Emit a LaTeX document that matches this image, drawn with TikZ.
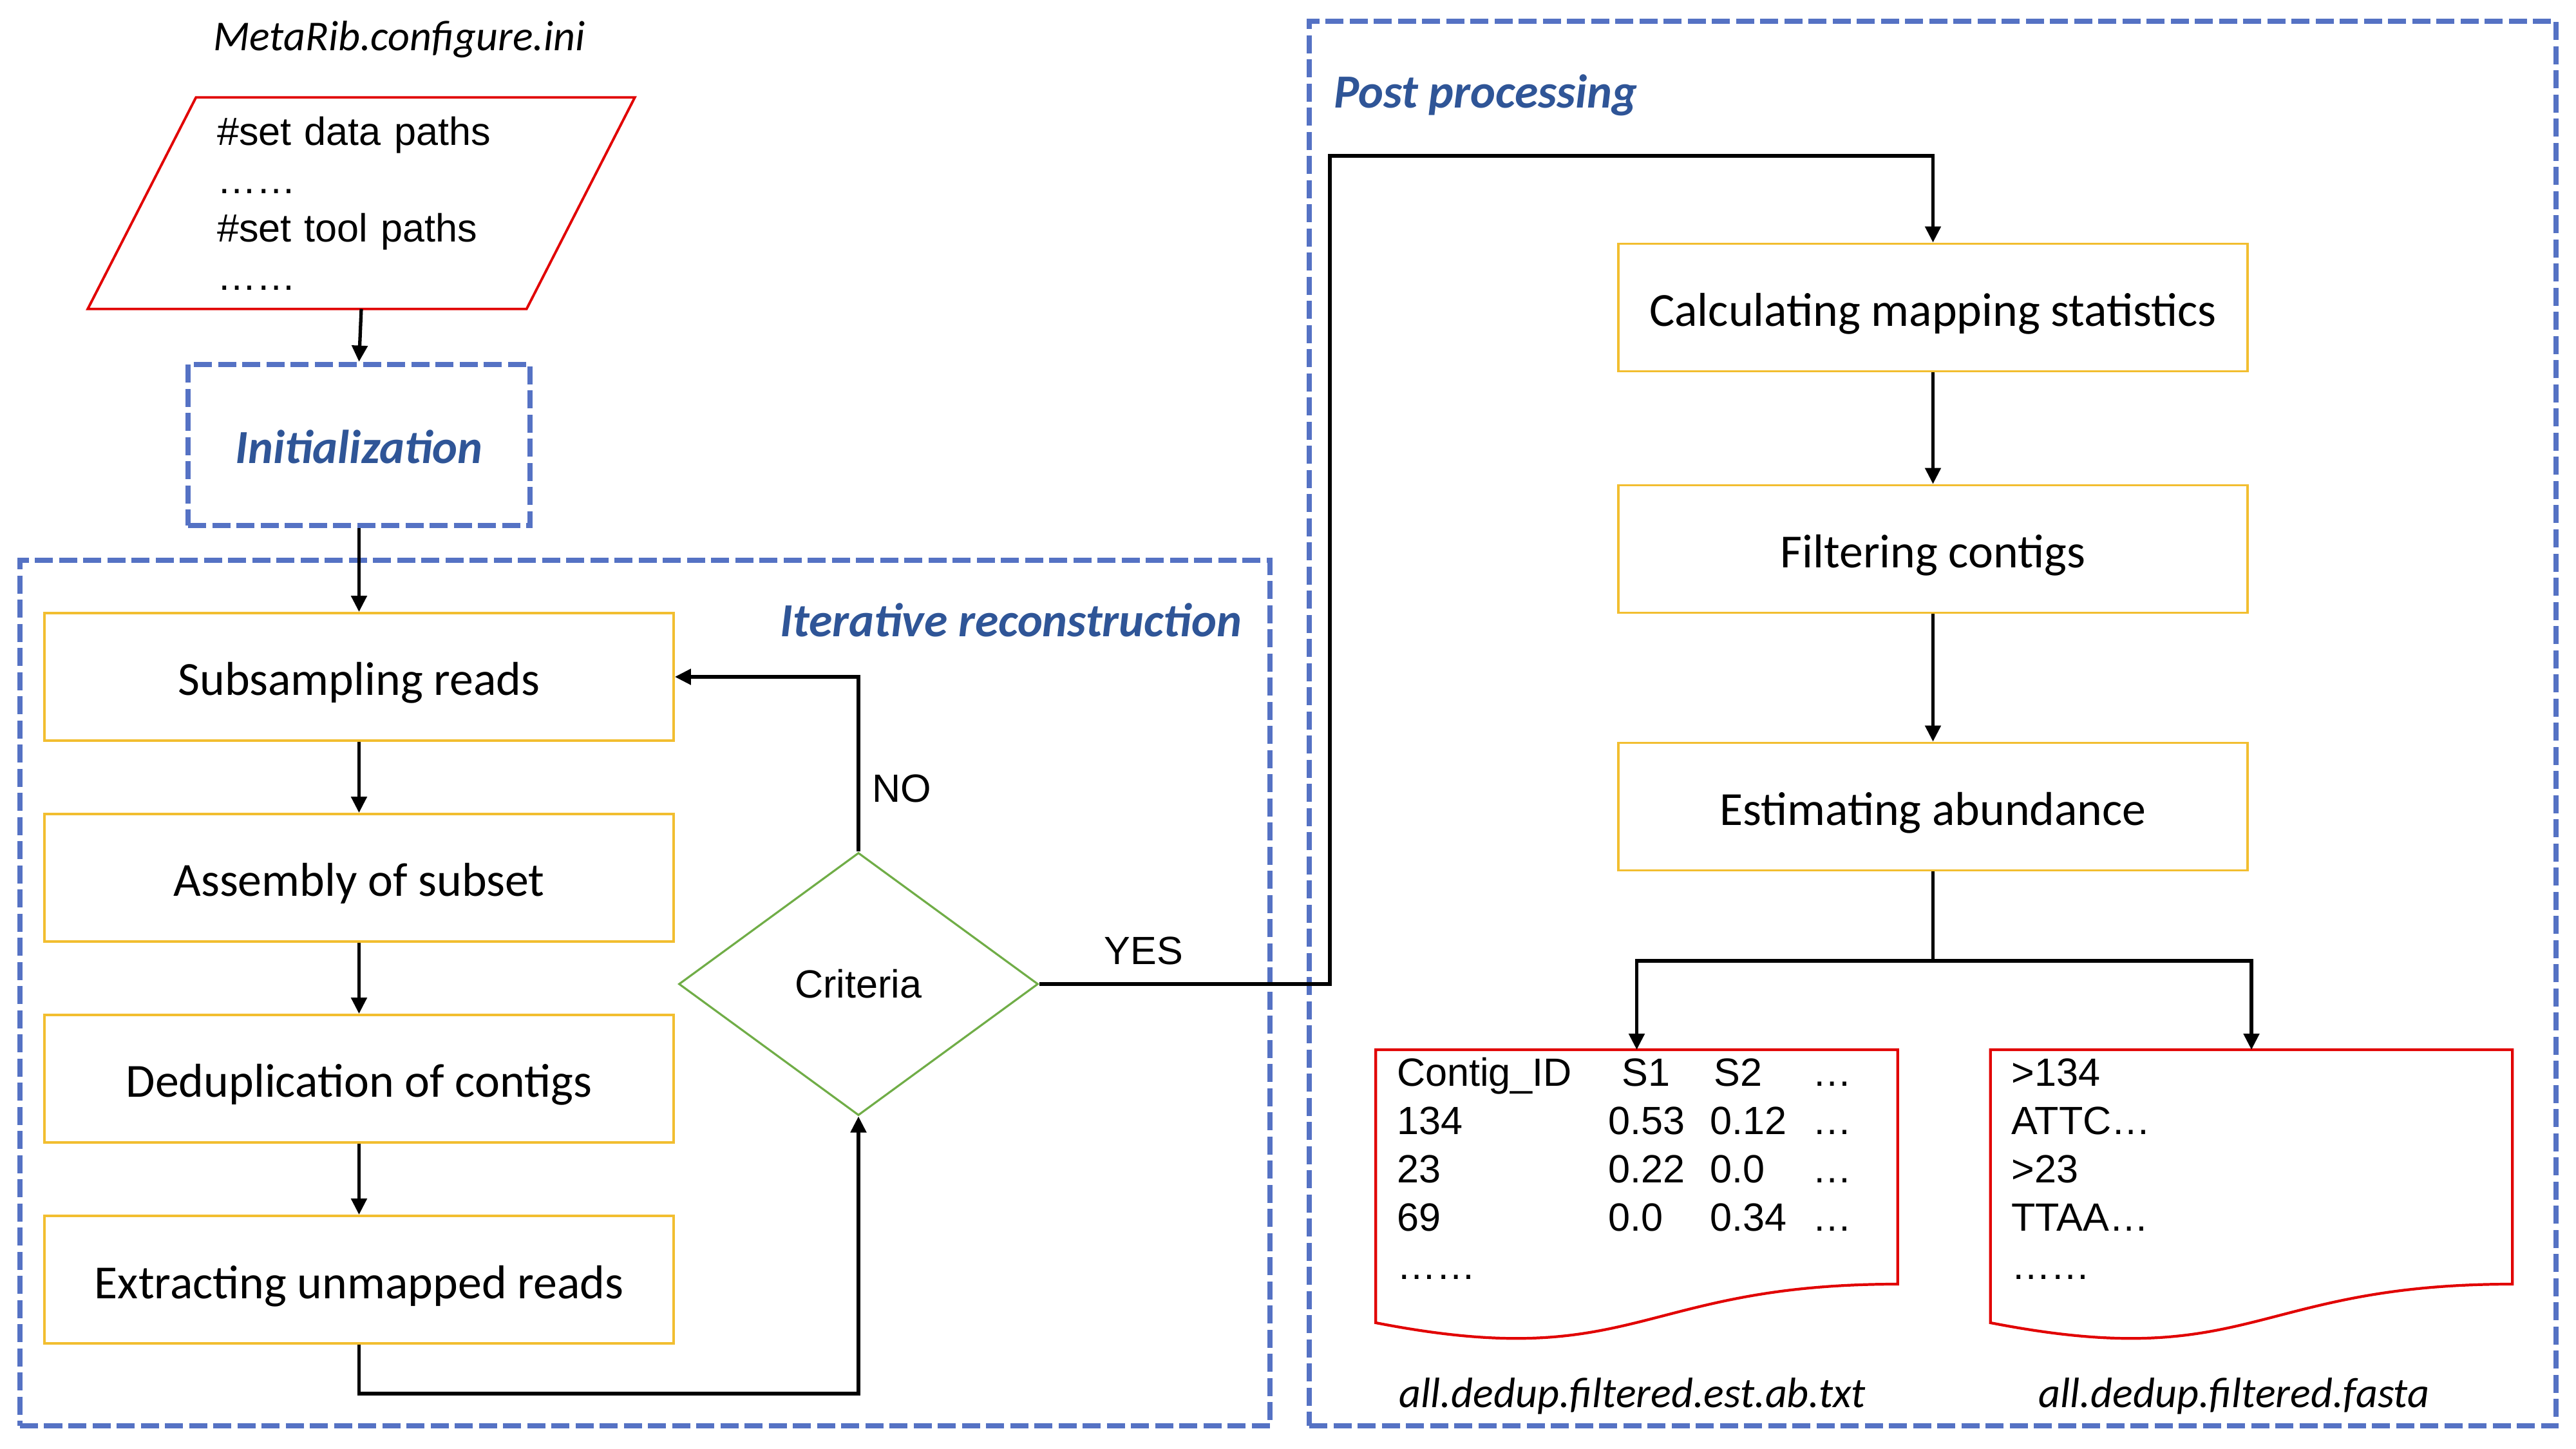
\documentclass[tikz,border=0pt]{standalone}
\usepackage{fontspec}
\newfontfamily\calibri{Carlito}
\newfontfamily\arial{Liberation Sans}
\usetikzlibrary{positioning,shapes.geometric,arrows.meta,calc}
\definecolor{grpblue}{RGB}{85,114,196}
\definecolor{titleblue}{RGB}{47,85,151}
\definecolor{stepgold}{RGB}{242,190,48}
\definecolor{filered}{RGB}{225,0,0}
\definecolor{critgreen}{RGB}{112,173,71}

\begin{document}
\begin{tikzpicture}[node distance={3.12cm},
    stepbox/.style = {draw=stepgold, line width=1.1pt, minimum width=9.77cm, minimum height=1.98cm, text height=0.7cm, text depth=0.12cm, font=\calibri\fontsize{21}{25}\selectfont},
    groupbox/.style = {draw=grpblue, line width=2.5pt, dash pattern=on 0.28cm off 0.095cm},
    grouptitle/.style = {text=titleblue, font=\calibri\bfseries\itshape\fontsize{21}{25}\selectfont},
    filename/.style = {font=\calibri\itshape\fontsize{18.8}{22}\selectfont},
    sanstext/.style = {font=\arial\fontsize{17.4}{21.34}\selectfont},
    cfgbox/.style = {minimum width=8.48cm, minimum height=3.27cm, text width=4.48cm, align=left, inner sep=0pt},
    crit/.style = {diamond, draw=critgreen, line width=0.9pt, minimum width=5.58cm, minimum height=4.08cm, inner sep=0pt},
    docbox/.style = {sanstext, anchor=north, inner xsep=0.32cm, inner ysep=0.035cm},
    docline/.style = {draw=filered, line width=1.2pt},
    arr/.style = {line width=1.5pt, -{Triangle[length=0.25cm, width=0.24cm]}}]
    \useasboundingbox (0,0) rectangle (40,-22.5);
    % dashed groups
    \node[groupbox, minimum width=19.41cm, minimum height=13.44cm] (iter) at (10.015,-15.42) {};
    \node[groupbox, minimum width=19.36cm, minimum height=21.81cm] (post) at (30.01,-11.235) {};
    \node[grouptitle, anchor=east] (itertitle) at ($(iter.north east)+(-0.36,-0.97)$) {Iterative reconstruction};
    \node[grouptitle, anchor=west] (posttitle) at ($(post.north west)+(0.3,-1.19)$) {Post processing};
    % iterative part
    \node[stepbox] (sub) at (5.575,-10.51) {Subsampling reads};
    \node[stepbox, below of=sub] (asm) {Assembly of subset};
    \node[stepbox, below of=asm] (dedup) {Deduplication of contigs};
    \node[stepbox, below of=dedup] (ext) {Extracting unmapped reads};
    \node[groupbox, grouptitle, minimum width=5.31cm, minimum height=2.5cm, text height=0.7cm, text depth=0.12cm, above of=sub, node distance=3.6cm] (init) {Initialization};
    \node[sanstext, cfgbox] (cfg) at (5.61,-3.155) {\#set data paths\\……\\\#set tool paths\\……};
    \draw[docline, line width=1.1pt] ($(cfg.north west)+(1.68,0)$) -- (cfg.north east) -- ($(cfg.south east)+(-1.68,0)$) -- (cfg.south west) -- cycle;
    \node[filename] (cfgname) at (6.2,-0.61) {MetaRib.configure.ini};
    \node[sanstext, crit] (check) at (13.33,-15.28) {Criteria};
    % post processing
    \node[stepbox] (calc) at (30.015,-4.775) {Calculating mapping statistics};
    \node[stepbox, below of=calc, node distance=3.75cm] (filt) {Filtering contigs};
    \node[stepbox, below of=filt, node distance=4cm] (est) {Estimating abundance};
    \node[docbox] (tab) at (25.415,-16.30) {\begin{tabular}{@{}p{3.28cm}@{}p{1.59cm}@{}p{1.59cm}@{}p{0.99cm}@{}}
        Contig\_ID & \hspace{0.22cm}S1 & \hspace{0.06cm}S2 & …\\
        134 & 0.53 & 0.12 & …\\
        23 & 0.22 & 0.0 & …\\
        69 & 0.0 & 0.34 & …\\
        …… & & &
    \end{tabular}};
    \node[docbox] (fasta) at (34.96,-16.30) {\begin{tabular}{@{}p{7.45cm}@{}}
        >134\\ ATTC…\\ >23\\ TTAA…\\ ……
    \end{tabular}};
    \draw[docline] (tab.north west) -- (tab.north east) -- ++(0,-3.64) .. controls ($(tab.north)+(0,-3.64)$) and ($(tab.north)+(0,-5.03)$) .. ($(tab.north west)+(0,-4.24)$) -- cycle;
    \draw[docline] (fasta.north west) -- (fasta.north east) -- ++(0,-3.64) .. controls ($(fasta.north)+(0,-3.64)$) and ($(fasta.north)+(0,-5.03)$) .. ($(fasta.north west)+(0,-4.24)$) -- cycle;
    \node[filename] (tabname) at (25.35,-21.68) {all.dedup.filtered.est.ab.txt};
    \node[filename] (fastaname) at (34.69,-21.68) {all.dedup.filtered.fasta};
    % connectors
    \coordinate (turn) at (20.65,-2.42);
    \coordinate (split) at (30.015,-14.92);
    \draw[arr] (cfg.south) -- (init.north);
    \draw[arr] (init) -- (sub);
    \draw[arr] (sub) -- (asm);
    \draw[arr] (asm) -- (dedup);
    \draw[arr] (dedup) -- (ext);
    \draw[arr] (ext.south) -- ++(0,-0.76) -| (check.south);
    \draw[arr] (check.north) |- node[pos=0.18, anchor=west, sanstext, inner sep=0.19cm] (no) {NO} (sub.east);
    \draw[arr] (check.east) -| node[pos=0.18, anchor=south, sanstext, inner sep=0.27cm] (yes) {YES} (turn) -| (calc.north);
    \draw[arr] (calc) -- (filt);
    \draw[arr] (filt) -- (est);
    \draw[line width=1.5pt] (est.south) -- (split);
    \draw[arr] (split) -| (tab.north);
    \draw[arr] (split) -| (fasta.north);
\end{tikzpicture}
\end{document}
